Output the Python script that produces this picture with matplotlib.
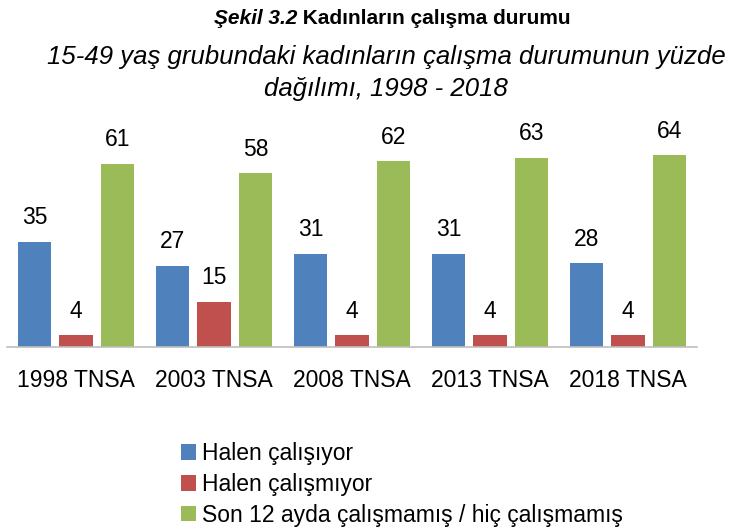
import numpy as np
import matplotlib.pyplot as plt

# Data
surveys = ["1998 TNSA", "2003 TNSA", "2008 TNSA", "2013 TNSA", "2018 TNSA"]
working = [35, 27, 31, 31, 28]
not_working = [4, 15, 4, 4, 4]
never_worked = [61, 58, 62, 63, 64]
series_names = ["Halen çalışıyor", "Halen çalışmıyor",
                "Son 12 ayda çalışmamış / hiç çalışmamış"]
colors = ["#4F81BD", "#C0504D", "#9BBB59"]

plt.rcParams['font.family'] = ['Liberation Sans', 'DejaVu Sans']

W, H = 744, 529
fig = plt.figure(figsize=(W / 100, H / 100), dpi=100)
# axes: x 7..697 px, y 115..347 px
ax = fig.add_axes([7 / W, 1 - 347 / H, 690 / W, 232 / H])

x = np.arange(len(surveys))
width = 0.24
offsets = [-0.30, 0.0, 0.30]
for vals, off, c, name in zip([working, not_working, never_worked], offsets, colors, series_names):
    bars = ax.bar(x + off, vals, width, color=c, label=name)
    for b, v in zip(bars, vals):
        ax.annotate(str(v), (b.get_x() + b.get_width() / 2, v), xytext=(0, 9),
                    textcoords="offset points", ha="center", va="bottom", fontsize=16.5)

ax.set_xlim(-0.5, len(surveys) - 0.5)
ax.set_ylim(0, 232 / 3)
ax.set_xticks(x)
ax.set_xticklabels(surveys, fontsize=16.5)
ax.tick_params(axis='x', length=0, pad=16)
ax.set_yticks([])
for s in ['top', 'right', 'left']:
    ax.spines[s].set_visible(False)
ax.spines['bottom'].set_color('#BFBFBF')
ax.spines['bottom'].set_linewidth(1.2)

# Title: italic bold part + bold part, centred together
fig.canvas.draw()
r = fig.canvas.get_renderer()
t1 = fig.text(0, 1 - 19 / H, "Şekil 3.2", fontsize=15, fontweight='bold', style='italic',
              va='center', ha='left')
t2 = fig.text(0, 1 - 19 / H, " Kadınların çalışma durumu", fontsize=15, fontweight='bold',
              va='center', ha='left')
w1 = t1.get_window_extent(r).width
w2 = t2.get_window_extent(r).width
x0 = (392 - (w1 + w2) / 2) / W
t1.set_x(x0)
t2.set_x(x0 + w1 / W)

fig.text(386 / W, 1 - 57 / H, "15-49 yaş grubundaki kadınların çalışma durumunun yüzde",
         fontsize=18.5, style='italic', ha='center', va='center')
fig.text(386 / W, 1 - 89 / H, "dağılımı, 1998 - 2018",
         fontsize=18.5, style='italic', ha='center', va='center')

fig.legend(loc='upper left', bbox_to_anchor=(172 / W, 1 - 433 / H), frameon=False,
           fontsize=16.5, handlelength=0.65, handleheight=0.65, handletextpad=0.25,
           labelspacing=0.34, borderaxespad=0)

fig.savefig("out.png", dpi=100)
